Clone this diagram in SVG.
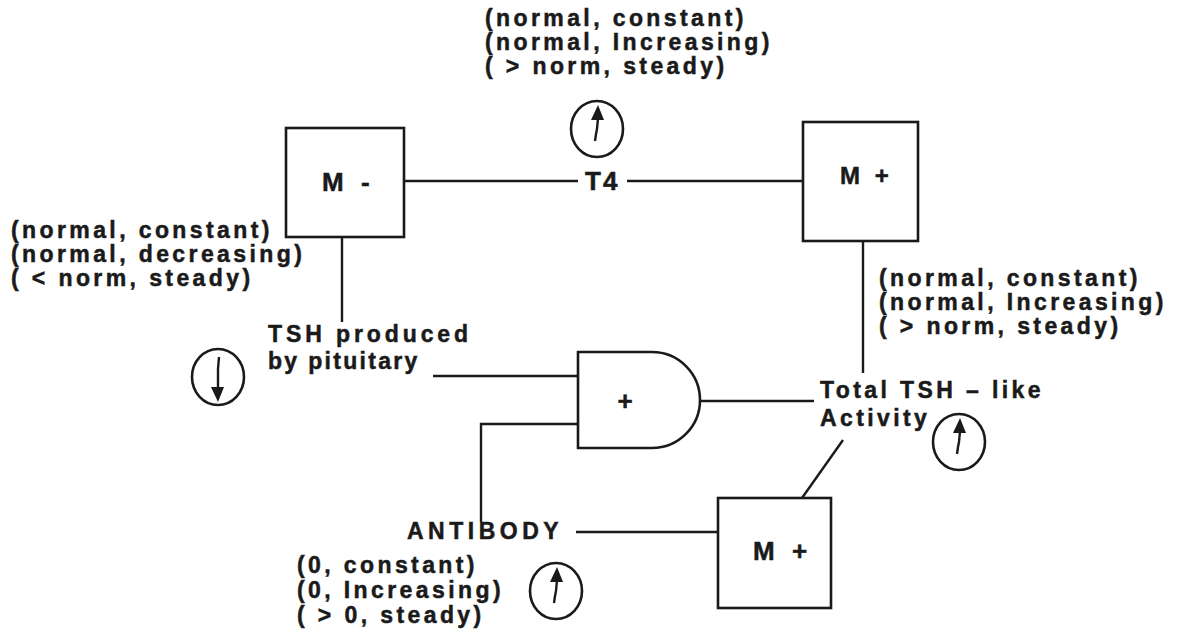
<svg xmlns="http://www.w3.org/2000/svg" width="1184" height="642" viewBox="0 0 1184 642">
<style>
.t{font-family:"Liberation Sans",Arial,sans-serif;font-weight:bold;font-size:23px;fill:#1a1a1a;stroke:#1a1a1a;stroke-width:0.5px;letter-spacing:3.4px}
.m{font-family:"Liberation Sans",Arial,sans-serif;font-weight:bold;font-size:26px;fill:#1a1a1a;stroke:#1a1a1a;stroke-width:0.5px;letter-spacing:5px}
.ln{stroke:#1a1a1a;stroke-width:2.4;fill:none}
.bx{stroke:#1a1a1a;stroke-width:2.6;fill:#fff}
.c{stroke:#1a1a1a;stroke-width:2.6;fill:none}
.ar{stroke:#1a1a1a;stroke-width:2.4;fill:none}
</style>
<defs>
<g id="up"><ellipse class="c" cx="0" cy="0" rx="26" ry="28"/><path class="ar" d="M1,-11 L0,0 L-1,5 L-2,12"/><path d="M1,-24 L-6,-9 L7,-9 Z" fill="#1a1a1a"/></g>
<g id="down"><ellipse class="c" cx="0" cy="0" rx="26" ry="28"/><path class="ar" d="M1,-20 L0,-8 L0,12"/><path d="M0,25 L-7,10 L6,10 Z" fill="#1a1a1a"/></g>
</defs>
<rect width="1184" height="642" fill="#fff"/>
<g id="connectors">
<path class="ln" d="M404,181 H578"/>
<path class="ln" d="M627,181 H803"/>
<path class="ln" d="M342,237 V322"/>
<path class="ln" d="M433,376 H578"/>
<path class="ln" d="M578,424 H481 V522"/>
<path class="ln" d="M700,401 H814"/>
<path class="ln" d="M863,241 V373"/>
<path class="ln" d="M843,440 L802,498"/>
<path class="ln" d="M576,532 H718"/>
</g>
<g id="node-t4">
<text class="m" x="585" y="190" style="letter-spacing:2px">T4</text>
<text class="t" x="485" y="26">(normal, constant)</text>
<text class="t" x="485" y="50">(normal, Increasing)</text>
<text class="t" x="485" y="74">( &gt; norm, steady)</text>
<use href="#up" x="597" y="129"/>
</g>
<g id="node-mminus">
<rect class="bx" x="286" y="128" width="118" height="109"/>
<text class="m" x="322" y="191">M -</text>
</g>
<g id="node-mplus-top">
<rect class="bx" x="803" y="122" width="115" height="119"/>
<text class="m" x="840" y="184" style="font-size:24px;letter-spacing:4px">M +</text>
</g>
<g id="node-tsh">
<text class="t" x="11" y="238">(normal, constant)</text>
<text class="t" x="11" y="262">(normal, decreasing)</text>
<text class="t" x="11" y="286">( &lt; norm, steady)</text>
<text class="t" x="268" y="342" style="letter-spacing:3.9px">TSH produced</text>
<text class="t" x="268" y="369" style="letter-spacing:2.3px">by pituitary</text>
<use href="#down" x="218" y="377"/>
</g>
<g id="node-and">
<path class="bx" d="M578,352 H652 A48,48 0 0 1 652,448 H578 Z"/>
<text class="m" x="625" y="410" text-anchor="middle" style="letter-spacing:0">+</text>
</g>
<g id="node-total">
<text class="t" x="879" y="286">(normal, constant)</text>
<text class="t" x="879" y="310">(normal, Increasing)</text>
<text class="t" x="879" y="334">( &gt; norm, steady)</text>
<text class="t" x="820" y="398">Total TSH – like</text>
<text class="t" x="820" y="426">Activity</text>
<use href="#up" x="959" y="442"/>
</g>
<g id="node-mplus-bottom">
<rect class="bx" x="718" y="498" width="113" height="110"/>
<text class="m" x="753" y="560">M +</text>
</g>
<g id="node-antibody">
<text class="t" x="407" y="539" style="letter-spacing:4.5px">ANTIBODY</text>
<text class="t" x="297" y="573">(0, constant)</text>
<text class="t" x="297" y="598">(0, Increasing)</text>
<text class="t" x="297" y="623">( &gt; 0, steady)</text>
<use href="#up" x="556" y="591"/>
</g>
</svg>
